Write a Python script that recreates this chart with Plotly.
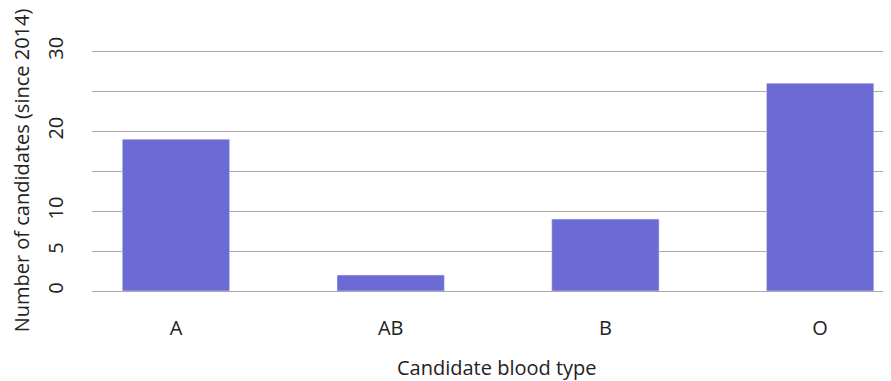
import plotly.graph_objects as go

categories = ["A", "AB", "B", "O"]
values = [19, 2, 9, 26]
tick_vals = [0, 5, 10, 15, 20, 25, 30]
tick_text = ["0", "5", "10", "", "20", "", "30"]

fig = go.Figure(go.Bar(x=categories, y=values, marker_color="rgb(108,107,214)", width=0.5))

font = dict(family="Open Sans", size=20, color="#222222")
fig.update_layout(
    width=883, height=373,
    margin=dict(l=84, r=0, t=42, b=90),
    plot_bgcolor="white", paper_bgcolor="white",
    font=font, showlegend=False,
    xaxis=dict(
        range=[-0.391, 3.33], showgrid=False, showline=False, zeroline=False,
        automargin=False, ticklabelstandoff=23,
    ),
    yaxis=dict(
        range=[0, 30.15], tickvals=tick_vals, ticktext=tick_text, tickangle=-90,
        showgrid=True, gridcolor="#a8a8a8", gridwidth=1,
        zeroline=True, zerolinecolor="#a8a8a8", zerolinewidth=1,
        automargin=False, ticklabelstandoff=24,
        title=dict(text="Number of candidates (since 2014)", standoff=15, font=font),
    ),
    annotations=[dict(
        text="Candidate blood type", xref="paper", yref="paper",
        x=0.5075, y=-0.316, xanchor="center", yanchor="middle",
        showarrow=False, font=font,
    )],
)
fig.write_html("out.html")
